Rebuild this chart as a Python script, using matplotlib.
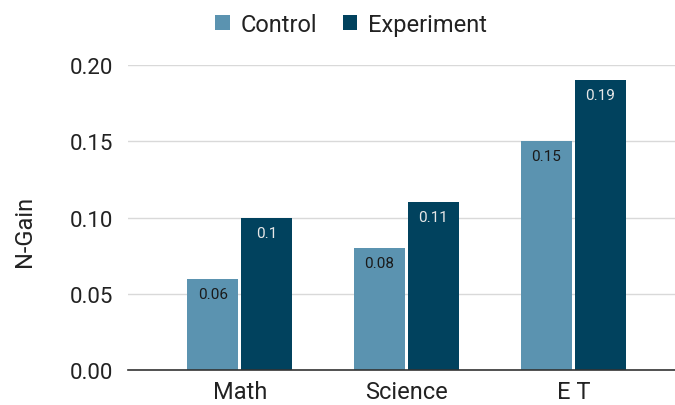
import matplotlib
matplotlib.use("Agg")
import matplotlib.pyplot as plt
import numpy as np

categories = ["Math", "Science", "E T"]
control = [0.06, 0.08, 0.15]
experiment = [0.10, 0.11, 0.19]
series_names = ["Control", "Experiment"]
yticks = [0.00, 0.05, 0.10, 0.15, 0.20]

plt.rcParams['font.family'] = ['Roboto', 'DejaVu Sans']

fig = plt.figure(figsize=(6.75, 4.06), dpi=100)
ax = fig.add_axes([0.1896, 0.0862, 0.8104, 0.7512])

c_ctrl = "#5b93b0"
c_exp = "#01425e"
x = np.arange(len(categories))
w = 0.305
gap = 0.009
b1 = ax.bar(x - w/2 - gap, control, w, color=c_ctrl, label=series_names[0], zorder=3)
b2 = ax.bar(x + w/2 + gap, experiment, w, color=c_exp, label=series_names[1], zorder=3)

for rect, v in zip(b1, control):
    ax.annotate(f"{v:g}", (rect.get_x() + rect.get_width()/2, v), xytext=(0, -15),
                textcoords="offset pixels", ha="center", va="center", fontsize=11, color="#1a1a1a", zorder=4)
for rect, v in zip(b2, experiment):
    ax.annotate(f"{v:g}", (rect.get_x() + rect.get_width()/2, v), xytext=(0, -15),
                textcoords="offset pixels", ha="center", va="center", fontsize=11, color="#e8e8e8", zorder=4)

ax.set_xlim(-0.67, 2.61)
ax.set_ylim(0, 0.2)
ax.set_yticks(yticks)
ax.set_yticklabels([f"{t:.2f}" for t in yticks])
ax.set_xticks(x)
ax.set_xticklabels(categories)
ax.tick_params(axis='y', length=0, labelsize=16, colors="#222222", pad=11)
ax.tick_params(axis='x', length=0, labelsize=17, colors="#222222", pad=7)
ax.grid(axis='y', color="#d9d9d9", linewidth=1, zorder=0)
for s in ["top", "right", "left"]:
    ax.spines[s].set_visible(False)
ax.spines["bottom"].set_color("#333333")
ax.spines["bottom"].set_linewidth(1.2)
ax.spines["bottom"].set_zorder(5)

fig.text(0.037, 0.43, "N-Gain", rotation=90, ha="center", va="center", fontsize=17, color="#222222")

leg = fig.legend(handles=[b1, b2], labels=series_names, loc="center", bbox_to_anchor=(0.52, 0.938),
                 ncol=2, frameon=False, fontsize=17, handlelength=0.62, handleheight=0.62,
                 handletextpad=0.45, columnspacing=1.1, labelcolor="#222222")

fig.savefig("out.png", dpi=100)
